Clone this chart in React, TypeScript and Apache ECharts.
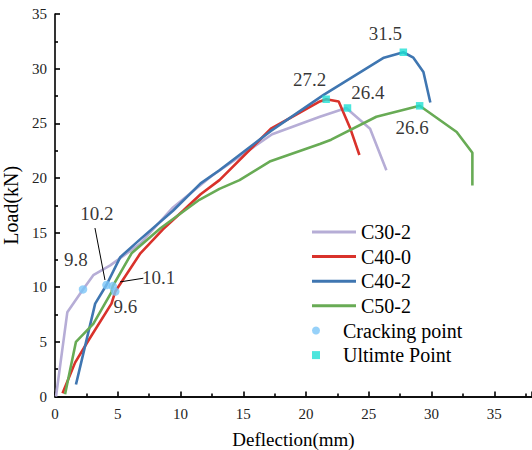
import { useEffect, useRef } from 'react';
import * as echarts from 'echarts';

// Load–deflection curves, [deflection mm, load kN]
const c30_2 = [[0.08, 0], [0.98, 7.7], [2.23, 9.8], [3.05, 11.1], [4.4, 12.0], [6.8, 14.0], [9.4, 17.3], [12.5, 20.2], [17.3, 24.0], [21.1, 25.6], [23.2, 26.4], [25.1, 24.5], [26.4, 20.7]];
const c40_0 = [[0.6, 0.3], [1.6, 3.1], [2.65, 5.1], [4.5, 8.5], [4.8, 9.6], [6.8, 13.1], [8.6, 15.3], [10.2, 17.0], [11.6, 18.5], [13.1, 19.8], [17.2, 24.5], [21.1, 27.0], [21.6, 27.2], [22.6, 27.0], [23.5, 24.6], [24.25, 22.1]];
const c40_2 = [[1.67, 1.1], [3.2, 8.5], [4.1, 10.2], [5.2, 12.75], [6.8, 14.4], [9.4, 17.0], [11.6, 19.5], [13.1, 20.7], [17.2, 24.3], [21.4, 27.6], [26.2, 31.0], [27.75, 31.5], [28.55, 31.0], [29.35, 29.7], [29.9, 26.9]];
const c50_2 = [[0.8, 0.2], [1.67, 5.0], [3.05, 6.65], [4.5, 9.55], [4.6, 10.1], [6.1, 13.1], [8.4, 15.4], [11.5, 18.0], [13.1, 19.0], [14.7, 19.8], [17.1, 21.5], [21.1, 23.1], [22.0, 23.5], [25.6, 25.6], [29.05, 26.6], [32.0, 24.2], [33.25, 22.3], [33.25, 19.3]];

// Cracking points: C30-2, C40-2, C50-2, C40-0
const crackPoints = [[2.23, 9.8], [4.1, 10.2], [4.6, 10.1], [4.8, 9.6]];
// Ultimate points: C40-2, C40-0, C30-2, C50-2
const ultimatePoints = [[27.75, 31.5], [21.6, 27.2], [23.3, 26.4], [29.05, 26.6]];

const seriesNames = ['C30-2', 'C40-0', 'C40-2', 'C50-2'];
const seriesColors = ['#b6add6', '#d9322b', '#3f76b1', '#68ab55'];
const curves = [c30_2, c40_0, c40_2, c50_2];

const xTicks = { min: 0, max: 38, interval: 5 };
const yTicks = { min: 0, max: 35, interval: 5 };

// pixel offsets of value labels from their markers
const crackLabelOffsets = [[-7, -29.5], [-9.5, -72], [46, -9], [10, 15]];
const ultimateLabelOffsets = [[-18, -18.5], [-16.5, -20], [20.5, -15.5], [-7.5, 22]];

// leader lines from labels to markers (pixel offsets relative to the marker)
const leaders = [
  { point: 1, from: [-11.5, -57], to: [-1.5, -5] },
  { point: 2, from: [7.3, -4.2], to: [30.6, -7.9] },
];

const FONT = 'Liberation Serif';

const tickRich = { t: { fontFamily: FONT, fontSize: 15, color: '#222' } };
const valueRich = { v: { fontFamily: FONT, fontSize: 19, color: '#000' } };

export default function App() {
  const ref = useRef<HTMLDivElement>(null);

  useEffect(() => {
    const chart = echarts.init(ref.current!, null, { renderer: 'svg' });

    const valueLabel = (offset: number[]) => ({
      show: true,
      position: 'inside',
      offset,
      formatter: (p: any) => `{v|${Number(p.value[1]).toFixed(1)}}`,
      fontFamily: FONT,
      fontSize: 19,
      color: '#000',
      rich: valueRich,
    });

    const axisLineStyle = { color: '#000', width: 1.6 };

    const option: any = {
      animation: false,
      backgroundColor: '#fff',
      textStyle: { fontFamily: FONT },
      grid: { left: 55, right: 0, top: 14, bottom: 53.5, outerBoundsMode: 'none', containLabel: false },
      legend: [
        {
          data: seriesNames.map((name) => ({ name, icon: 'rect' })),
          orient: 'vertical',
          left: 312,
          top: 222,
          padding: 0,
          itemWidth: 44,
          itemHeight: 3,
          itemGap: 4.6,
          textStyle: { fontFamily: FONT, fontSize: 20, color: '#000', lineHeight: 20 },
        },
        {
          data: [
            { name: 'Cracking point', icon: 'circle' },
            { name: 'Ultimte Point', icon: 'path://M0 0H10V10H0Z' },
          ],
          orient: 'vertical',
          left: 312,
          top: 320.5,
          padding: 0,
          itemWidth: 44,
          itemHeight: 8,
          itemGap: 4.6,
          symbolKeepAspect: true,
          textStyle: { fontFamily: FONT, fontSize: 20, color: '#000', lineHeight: 20 },
        },
      ],
      xAxis: [
        {
          type: 'value',
          min: xTicks.min,
          max: xTicks.max,
          interval: xTicks.interval,
          name: 'Deflection(mm)',
          nameLocation: 'middle',
          nameGap: 33,
          nameTextStyle: { fontFamily: FONT, fontSize: 19, color: '#000' },
          axisLine: { show: true, onZero: false, lineStyle: axisLineStyle },
          axisTick: { show: true, inside: true, length: 5, lineStyle: axisLineStyle },
          minorTick: { show: true, splitNumber: 2, length: 3, lineStyle: axisLineStyle },
          axisLabel: {
            margin: 10,
            fontFamily: FONT,
            fontSize: 15,
            color: '#222',
            rich: tickRich,
            formatter: (v: number) => (v % xTicks.interval === 0 ? `{t|${v}}` : ''),
          },
          splitLine: { show: false },
        },
        {
          type: 'value',
          position: 'top',
          min: xTicks.min,
          max: xTicks.max,
          axisLine: { show: true, lineStyle: axisLineStyle },
          axisTick: { show: false },
          axisLabel: { show: false },
          splitLine: { show: false },
        },
      ],
      yAxis: {
        type: 'value',
        min: yTicks.min,
        max: yTicks.max,
        interval: yTicks.interval,
        name: 'Load(kN)',
        nameLocation: 'middle',
        nameGap: 30,
        nameTextStyle: { fontFamily: FONT, fontSize: 20, color: '#000' },
        axisLine: { show: true, lineStyle: axisLineStyle },
        axisTick: { show: true, inside: true, length: 5, lineStyle: axisLineStyle },
        minorTick: { show: true, splitNumber: 2, length: 3, lineStyle: axisLineStyle },
        axisLabel: {
          margin: 8,
          fontFamily: FONT,
          fontSize: 15,
          color: '#222',
          rich: tickRich,
          formatter: (v: number) => `{t|${v}}`,
        },
        splitLine: { show: false },
      },
      series: [
        ...curves.map((data, i) => ({
          name: seriesNames[i],
          type: 'line',
          data,
          symbol: 'none',
          color: seriesColors[i],
          lineStyle: { color: seriesColors[i], width: 2.6 },
          z: 2,
        })),
        {
          name: 'Cracking point',
          type: 'scatter',
          symbol: 'circle',
          symbolSize: 8.5,
          color: '#7cc6f7',
          itemStyle: { color: '#7cc6f7' },
          z: 5,
          data: crackPoints.map((value, i) => ({ value, label: valueLabel(crackLabelOffsets[i]) })),
        },
        {
          name: 'Ultimte Point',
          type: 'scatter',
          symbol: 'rect',
          symbolSize: 7.5,
          color: '#1fe0d4',
          itemStyle: { color: '#1fe0d4' },
          z: 5,
          data: ultimatePoints.map((value, i) => ({ value, label: valueLabel(ultimateLabelOffsets[i]) })),
        },
      ],
    };

    chart.setOption(option);

    const graphic = leaders.map((l) => {
      const [px, py] = chart.convertToPixel({ xAxisIndex: 0, yAxisIndex: 0 }, crackPoints[l.point]) as number[];
      return {
        type: 'line',
        shape: { x1: px + l.from[0], y1: py + l.from[1], x2: px + l.to[0], y2: py + l.to[1] },
        style: { stroke: '#000', lineWidth: 1 },
        z: 10,
      };
    });
    chart.setOption({ graphic });

    return () => chart.dispose();
  }, []);

  return <div ref={ref} style={{ position: 'absolute', left: 0, top: 0, width: 532, height: 450 }} />;
}
